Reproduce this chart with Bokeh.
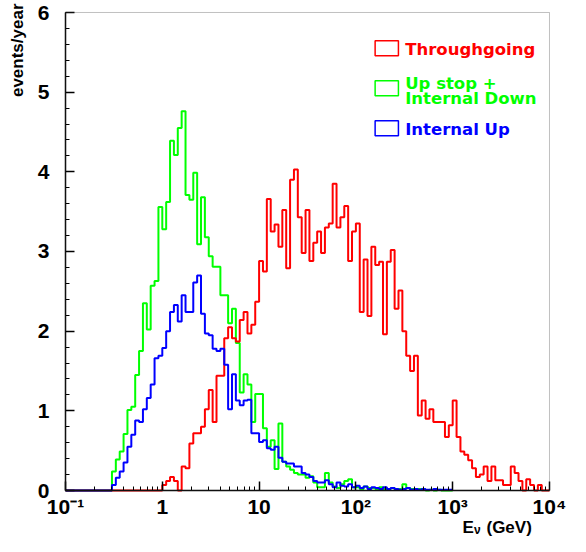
import math
from bokeh.plotting import figure
from bokeh.models import (Range1d, FixedTicker, SingleIntervalTicker, CustomJSTickFormatter,
                          Label, BoxAnnotation)
from bokeh.embed import file_html
from bokeh.resources import INLINE

# ---------------- data ----------------
LOG_E_MIN = -1.0          # histogram starts at 10^-1 GeV
BINS_PER_DECADE = 25      # log-uniform bins

# Throughgoing (125 bins, 0.1 GeV - 10^4 GeV)
throughgoing = [
    0, 0, 0, 0, 0, 0, 0, 0, 0, 0,
    0, 0, 0, 0, 0, 0, 0, 0, 0, 0,
    0, 0, 0, 0, 0, 0.07, 0.12, 0.17, 0.12, 0.00,
    0.30, 0.28, 0.59, 0.72, 0.72, 0.80, 1.02, 1.26, 0.86, 1.44,
    1.44, 1.91, 2.05, 1.91, 1.87, 2.14, 2.24, 1.97, 2.08, 2.37,
    2.88, 2.75, 3.66, 3.25, 3.34, 3.06, 3.52, 2.79, 3.90, 4.03,
    3.43, 2.98, 3.52, 2.88, 3.11, 3.25, 2.98, 3.30, 3.35, 3.85,
    3.30, 3.43, 3.57, 2.88, 3.25, 3.35, 2.24, 2.90, 2.19, 3.06,
    2.83, 2.87, 1.96, 2.87, 3.02, 2.28, 2.51, 2.00, 1.69, 1.50,
    1.69, 0.94, 1.13, 0.90, 1.02, 0.86, 0.86, 0.86, 0.67, 0.82,
    1.13, 0.67, 0.49, 0.45, 0.38, 0.28, 0.17, 0.20, 0.30, 0.12,
    0.30, 0.13, 0.13, 0.07, 0.07, 0.30, 0.22, 0.12, 0.00, 0.14,
    0.07, 0.00, 0.07, 0.00, 0.00,
]

# Up stop + Internal Down (100 bins, 0.1 GeV - 10^3 GeV)
up_stop_internal_down = [
    0, 0, 0, 0, 0, 0, 0, 0, 0, 0,
    0, 0, 0.24, 0.39, 0.49, 0.71, 1.01, 1.05, 1.45, 1.75,
    2.35, 2.02, 2.57, 2.63, 3.56, 3.28, 3.62, 4.39, 4.21, 4.55,
    4.76, 3.71, 3.65, 3.99, 3.09, 3.68, 3.18, 2.94, 2.81, 2.81,
    2.45, 2.45, 2.10, 2.28, 1.85, 1.23, 1.46, 1.33, 0.86, 1.21,
    1.21, 0.78, 0.55, 0.63, 0.27, 0.84, 0.36, 0.30, 0.26, 0.22,
    0.20, 0.20, 0.16, 0.18, 0.10, 0.04, 0.04, 0.22, 0.10, 0.05,
    0.03, 0.08, 0.12, 0.14, 0.04, 0.04, 0.02, 0.05, 0.03, 0.03,
    0.02, 0.04, 0.02, 0.02, 0.03, 0.01, 0.02, 0.08, 0.03, 0.02,
    0.01, 0.02, 0.01, 0.00, 0.01, 0.00, 0.01, 0.00, 0.00, 0.00,
]

# Internal Up (100 bins, 0.1 GeV - 10^3 GeV)
internal_up = [
    0, 0, 0, 0, 0, 0, 0, 0, 0, 0,
    0, 0, 0.07, 0.16, 0.24, 0.35, 0.55, 0.70, 0.88, 0.86,
    1.02, 1.16, 1.33, 1.66, 1.69, 1.79, 2.00, 2.24, 2.33, 2.12,
    2.45, 2.24, 2.24, 2.61, 2.70, 2.22, 1.97, 1.95, 1.78, 1.75,
    1.78, 1.58, 1.02, 1.46, 1.13, 1.07, 1.13, 1.14, 0.72, 0.72,
    0.61, 0.63, 0.53, 0.51, 0.55, 0.41, 0.36, 0.34, 0.34, 0.30,
    0.30, 0.22, 0.20, 0.17, 0.12, 0.10, 0.10, 0.13, 0.08, 0.04,
    0.10, 0.06, 0.05, 0.08, 0.04, 0.06, 0.03, 0.05, 0.02, 0.04,
    0.03, 0.02, 0.04, 0.02, 0.03, 0.02, 0.01, 0.02, 0.03, 0.01,
    0.02, 0.01, 0.02, 0.01, 0.01, 0.02, 0.01, 0.01, 0.01, 0.01,
]

series_labels = ["Throughgoing", "Up stop +", "Internal Down", "Internal Up"]
x_tick_values = [0.1, 1, 10, 100, 1000, 10000]
X_MIN, X_MAX = 0.1, 10000
Y_MIN, Y_MAX = 0, 6

RED = "#ff0000"
GREEN = "#00ff00"
BLUE = "#0000ff"


def bin_edges(n):
    return [10 ** (LOG_E_MIN + i / BINS_PER_DECADE) for i in range(n + 1)]


# ---------------- figure ----------------
# The frame fills the whole canvas; the axes sit at fixed data locations so that the
# axis titles (drawn as labels) are not clipped.
p = figure(
    width=570, height=536,
    x_axis_type="log",
    x_range=Range1d(10 ** -1.6715, 10 ** 4.217), y_range=Range1d(-0.5774, 6.1506),
    output_backend="svg", toolbar_location=None,
    min_border_left=0, min_border_right=0, min_border_top=0, min_border_bottom=0,
)
p.xgrid.visible = False
p.ygrid.visible = False
p.background_fill_color = "white"
p.border_fill_color = "white"
p.outline_line_color = None

# plot box (top / right edges)
p.add_layout(BoxAnnotation(left=X_MIN, right=X_MAX, bottom=Y_MIN, top=Y_MAX,
                           fill_color=None, fill_alpha=0, line_color="#333333", line_width=1))

# histograms (step lines)
for vals, col in [(up_stop_internal_down, GREEN), (throughgoing, RED), (internal_up, BLUE)]:
    edges = bin_edges(len(vals))
    p.step(x=edges, y=list(vals) + [vals[-1]], mode="after", line_color=col, line_width=2)

# x axis
minor = [k * 10 ** e for e in range(-1, 4) for k in range(2, 10)]
xa = p.xaxis[0]
xa.fixed_location = Y_MIN
xa.bounds = (X_MIN, X_MAX)
xa.ticker = FixedTicker(ticks=x_tick_values, minor_ticks=minor)
xa.formatter = CustomJSTickFormatter(code="""
const e = Math.round(Math.log10(tick));
if (e === 0) { return "1"; }
if (e === 1) { return "10"; }
const sup = {"-1": "\u207b\u00b9", "2": "\u00b2", "3": "\u00b3", "4": "\u2074"};
return "10" + sup[String(e)];
""")
xa.major_tick_in = 9
xa.major_tick_out = 0
xa.minor_tick_in = 4
xa.minor_tick_out = 0
xa.major_label_standoff = 4
xa.major_label_text_font = "Liberation Sans"
xa.major_label_text_font_style = "bold"
xa.major_label_text_font_size = "21px"
xa.major_label_text_color = "black"
xa.axis_line_color = "black"
xa.axis_line_width = 1.5
xa.major_tick_line_color = "black"
xa.minor_tick_line_color = "black"
xa.major_tick_line_width = 1.5

# y axis
ya = p.yaxis[0]
ya.fixed_location = X_MIN
ya.bounds = (Y_MIN, Y_MAX)
ya.ticker = SingleIntervalTicker(interval=1, num_minor_ticks=5)
ya.major_tick_in = 9
ya.major_tick_out = 0
ya.minor_tick_in = 4
ya.minor_tick_out = 0
ya.major_label_standoff = 16
ya.major_label_text_font = "Liberation Sans"
ya.major_label_text_font_style = "bold"
ya.major_label_text_font_size = "21px"
ya.major_label_text_color = "black"
ya.axis_line_color = "black"
ya.axis_line_width = 1.5
ya.major_tick_line_color = "black"
ya.minor_tick_line_color = "black"
ya.major_tick_line_width = 1.5

# axis titles
p.add_layout(Label(x=0.0323, y=6.113, text="events/year", angle=math.pi / 2,
                   text_align="right", text_baseline="middle",
                   text_font="Liberation Sans", text_font_style="bold",
                   text_font_size="17px", text_color="black"))
p.add_layout(Label(x=1262, y=-0.4644, text="E", text_align="left", text_baseline="alphabetic",
                   text_font="Liberation Sans", text_font_style="bold",
                   text_font_size="17px", text_color="black"))
p.add_layout(Label(x=1660, y=-0.502, text="\u03bd", text_align="left", text_baseline="alphabetic",
                   text_font="Liberation Sans", text_font_style="bold",
                   text_font_size="12px", text_color="black"))
p.add_layout(Label(x=2234, y=-0.4644, text="(GeV)", text_align="left", text_baseline="alphabetic",
                   text_font="Liberation Sans", text_font_style="bold",
                   text_font_size="17px", text_color="black"))

# legend (outlined boxes + text)
legend_rows = [
    (RED, 5.645, 5.457, [(series_labels[0], 5.532)]),
    (GREEN, 5.143, 4.954, [(series_labels[1], 5.103), (series_labels[2], 4.919)]),
    (BLUE, 4.641, 4.452, [(series_labels[3], 4.531)]),
]
for col, top, bottom, texts in legend_rows:
    p.quad(left=[158], right=[275], top=[top], bottom=[bottom],
           fill_alpha=0, line_color=col, line_width=1.5)
    for txt, yy in texts:
        p.add_layout(Label(x=323, y=yy, text=txt, text_align="left", text_baseline="middle",
                           text_font="DejaVu Sans", text_font_style="bold",
                           text_font_size="16.5px", text_color=col))

open("out.html", "w").write(file_html(p, INLINE))
